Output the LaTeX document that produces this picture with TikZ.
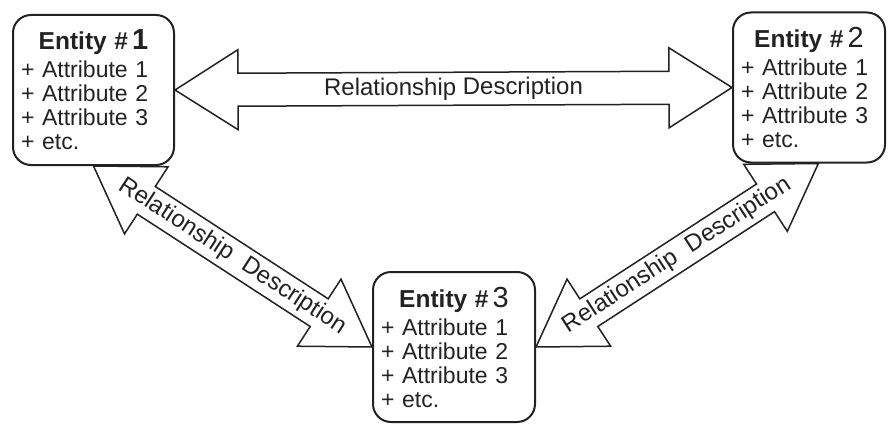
\documentclass[tikz,border=0pt]{standalone}
\usepackage{fontspec}
\setmainfont{Liberation Sans}
\usetikzlibrary{calc}
\definecolor{inkcolor}{HTML}{222222}
\tikzset{entity/.style={draw=inkcolor,line width=2pt,rounded corners=18pt,minimum height=150pt,inner xsep=8pt,inner ysep=0pt,align=left,text=inkcolor,font=\fontsize{23}{24}\selectfont},relation/.style={draw=inkcolor,line width=1.5pt,line join=miter},relation label/.style={sloped,text=inkcolor,inner sep=0pt,font=\fontsize{24}{24}\selectfont}}

\begin{document}
\begin{tikzpicture}[x=1pt,y=1pt]
 \useasboundingbox (0,0) rectangle (888,424);
 \foreach \n/\x/\y/\w in {1/93.5/334/145,2/809/336.5/136,3/454/77/146} {
   \ifnum\n=1 \def\df{\bfseries}\else \def\df{}\fi
   \node[entity,text width=\w pt] (e\n) at (\x,\y) {\makebox[\linewidth]{\fontsize{24.5}{24}\selectfont\bfseries Entity \#\,{\fontsize{29}{29}\selectfont\mdseries\df\n}}\\[4pt]+ Attribute 1\\+ Attribute 2\\+ Attribute 3\\+ etc.};
 }
 % hollow double arrows, head 63pt long, 80pt wide, shaft 33pt
 \foreach \a/\b/\t in {e1.east/e2.west/{Relationship Description},e1.south/e3.west/{Relationship\hspace{.6em}Description},e3.east/e2.-83/{Relationship\hspace{.6em}Description}} {
   \draw[relation] (\a) -- ($(\a)!63pt!(\b)!40pt!90:(\b)$) -- ($(\a)!63pt!(\b)!16.5pt!90:(\b)$)
     -- ($(\b)!63pt!(\a)!16.5pt!-90:(\a)$) -- ($(\b)!63pt!(\a)!40pt!-90:(\a)$) -- (\b)
     -- ($(\b)!63pt!(\a)!40pt!90:(\a)$) -- ($(\b)!63pt!(\a)!16.5pt!90:(\a)$)
     -- ($(\a)!63pt!(\b)!16.5pt!-90:(\b)$) -- ($(\a)!63pt!(\b)!40pt!-90:(\b)$) -- cycle;
   \path (\a) -- node[relation label] {\t} (\b);
 }
\end{tikzpicture}
\end{document}
